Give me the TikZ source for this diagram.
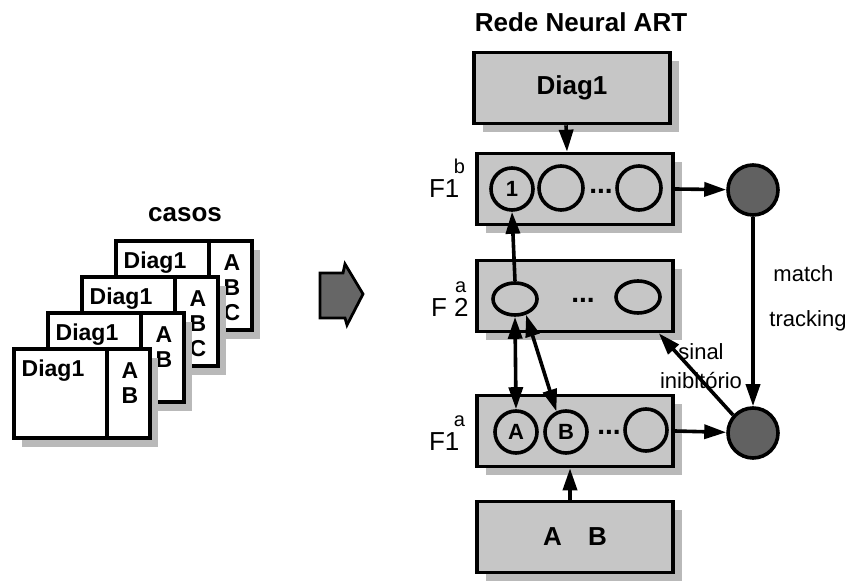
\documentclass[tikz,border=0pt]{standalone}
\usepackage{fontspec}
\setmainfont{Liberation Sans}
\usetikzlibrary{arrows.meta,shapes.geometric,shadows,calc}
\newcommand{\camada}[3][0pt]{#2\makebox[0pt][c]{\kern#1\raisebox{12pt}{\fontsize{10}{10}\selectfont #3}}}

\begin{document}
\begin{tikzpicture}[x=0.5pt, y=-0.5pt,
  sombra/.style={drop shadow={shadow xshift=4.5pt, shadow yshift=-4.5pt,
                 fill=gray!55, opacity=1}},
  cartao/.style={draw, line width=1.8pt, fill=white, minimum width=68pt,
                 minimum height=44.5pt, inner sep=0pt,
                 drop shadow={shadow xshift=4pt, shadow yshift=-4.5pt,
                 fill=gray!55, opacity=1}},
  bloco/.style={draw, line width=1.8pt, fill=gray!45, minimum width=98pt,
                minimum height=35.5pt, inner sep=0pt, sombra,
                font=\fontsize{13}{15}\selectfont\bfseries},
  neur/.style={draw, circle, line width=1.8pt, minimum size=21pt, inner sep=0pt,
               font=\fontsize{11}{13}\selectfont\bfseries},
  neurf2/.style={draw, ellipse, line width=1.8pt, minimum width=22pt,
                 minimum height=16pt, inner sep=0pt},
  ctrl/.style={draw, circle, line width=1.8pt, fill=black!62, minimum size=25pt,
               inner sep=0pt},
  bt/.style={font=\fontsize{13}{15}\selectfont\bfseries},
  ct/.style={font=\fontsize{11.5}{12.5}\selectfont\bfseries},
  lb/.style={font=\fontsize{11}{13}\selectfont},
  fl/.style={font=\fontsize{13}{15}\selectfont, anchor=base west},
  pts/.style={font=\fontsize{14}{15}\selectfont\bfseries, inner sep=0pt},
  seta/.style={->, line width=1.8pt},
  >={Triangle[length=11pt, width=7pt]}]
\useasboundingbox (0,0) rectangle (845,581);

% casos
\node[bt] (casos) at (185,215) {casos};
\foreach \i/\cx/\cy/\ltr in {4/114/239/{A\\B\\C}, 3/80/275/{A\\B\\C},
                             2/46/311/{A\\B}, 1/12/347/{A\\B}} {
  \node[cartao, anchor=north west] (card\i) at (\cx,\cy) {};
  \draw[line width=1.8pt] ($(card\i.north west)+(95,0)$) -- ($(card\i.south west)+(95,0)$);
  \node[ct] (cardtxt\i) at ($(card\i.north west)+(41,24)$) {Diag1};
  \node[ct, align=center, anchor=north, inner sep=0pt] (cardltr\i)
       at ($(card\i.north west)+(118,15)$) {\ltr};
}

\draw[line width=1.4pt, fill=black!60] (320,273) -- (343,273) -- (345,264) -- (363,294)
     -- (347,325) -- (345,318) -- (320,318) -- cycle;

% rede ART
\node[bt] (titulo) at (581,22) {Rede Neural ART};
\node[bloco] (diag) at (572,88) {Diag1};
\node[bloco] (f1b) at (575,189) {};
\node[bloco] (f2) at (575,296) {};
\node[bloco] (f1a) at (575,431) {};
\node[bloco] (entr) at (575,537) {A\quad B};

\node[fl] (lf1b) at (422,198) {\camada{F1}{b}};
\node[fl] (lf2) at (424,317) {\camada[-8pt]{F 2}{a}};
\node[fl] (lf1a) at (422,451) {\camada{F1}{a}};

\node[neur] (n1) at (512,189) {1};
\node[neur, minimum size=22pt] (n2) at (561,188) {};
\node[neur, minimum size=22pt] (n3) at (639,188) {};
\node[pts] (p1) at (601,191) {...};
\node[neurf2] (e1) at (515,299) {};
\node[neurf2] (e2) at (638,297) {};
\node[pts] (p2) at (583,300) {...};
\node[neur] (nA) at (516,432) {A};
\node[neur] (nB) at (566,432) {B};
\node[neur] (nC) at (646,430) {};
\node[pts] (p3) at (609,432) {...};

\node[ctrl] (cm) at (753,190) {};
\node[ctrl] (cr) at (753,433) {};

\draw[seta] ($(diag.south)+(-6,0)$) -- ($(f1b.north)+(-8,0)$);
\draw[seta] (e1.north) -- (n1.south);
\draw[seta, <->] (e1.south) -- (nA.north);
\draw[seta, <->] (e1.-55) -- (nB.115);
\draw[seta] ($(entr.north)+(-5,0)$) -- ($(f1a.south)+(-5,0)$);
\draw[seta] (f1b.east) -- (cm);
\draw[seta] (f1a.east) -- (cr);
\draw[seta] (cm) -- (cr)
  node[lb, pos=0.3, anchor=west, xshift=6pt] (lm) {match}
  node[lb, pos=0.55, anchor=west, xshift=4pt] (lt) {tracking};
\coordinate (inib) at ($(f2.south east)+(-16,0)$);
\draw[seta] (cr.138) -- (inib);
\node[lb] (lsinal) at (701,352) {sinal};
\node[lb] (linib) at (701,381) {inibitório};
\end{tikzpicture}
\end{document}
